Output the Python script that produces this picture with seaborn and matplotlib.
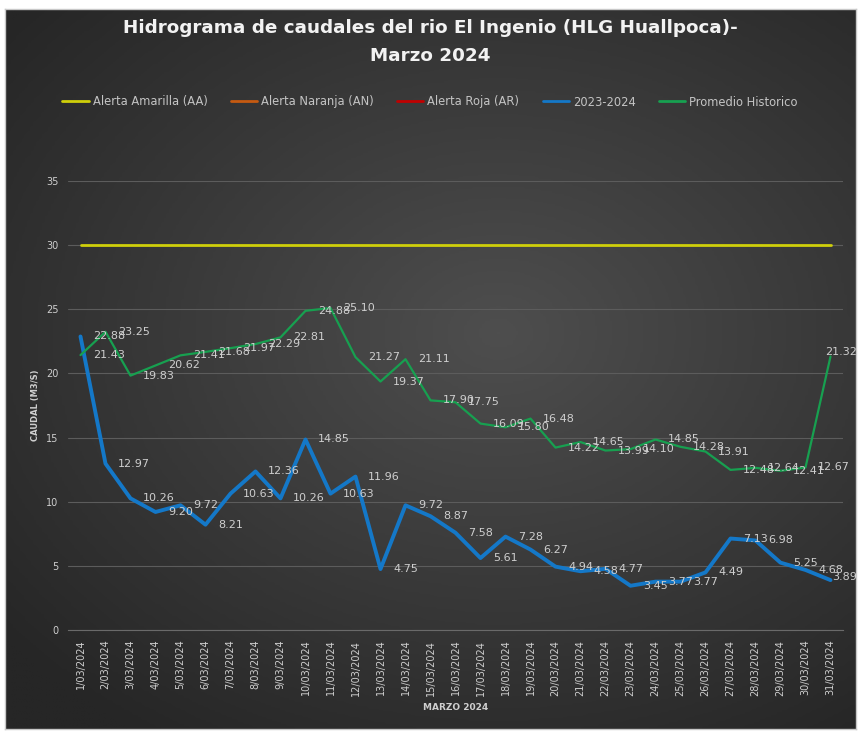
import numpy as np
import matplotlib
matplotlib.use("Agg")
import matplotlib.pyplot as plt
import seaborn as sns
from matplotlib.lines import Line2D
from matplotlib.colors import LinearSegmentedColormap

# ---------------- data ----------------
dias = list(range(1, 32))
fechas = [f"{d}/03/2024" for d in dias]
serie_2023_2024 = [22.88, 12.97, 10.26, 9.20, 9.72, 8.21, 10.63, 12.36, 10.26, 14.85,
                   10.63, 11.96, 4.75, 9.72, 8.87, 7.58, 5.61, 7.28, 6.27, 4.94,
                   4.58, 4.77, 3.45, 3.77, 3.77, 4.49, 7.13, 6.98, 5.25, 4.68, 3.89]
promedio_historico = [21.43, 23.25, 19.83, 20.62, 21.41, 21.68, 21.97, 22.29, 22.81, 24.88,
                      25.10, 21.27, 19.37, 21.11, 17.90, 17.75, 16.09, 15.80, 16.48, 14.22,
                      14.65, 13.99, 14.10, 14.85, 14.28, 13.91, 12.48, 12.64, 12.41, 12.67, 21.32]
alerta_amarilla = [30] * 31
alerta_naranja = []
alerta_roja = []
y_ticks = [0, 5, 10, 15, 20, 25, 30, 35]

titulo = "Hidrograma de caudales del rio El Ingenio (HLG Huallpoca)-\nMarzo 2024"
etiquetas = ["Alerta Amarilla (AA)", "Alerta Naranja (AN)", "Alerta Roja (AR)",
             "2023-2024", "Promedio Historico"]

c_amar, c_nar, c_roja, c_azul, c_verde = "#cfcf0a", "#c55a11", "#c00000", "#1478c8", "#17a050"
txt = "#cfcfcf"

sns.set_theme(style="dark")
plt.rcParams['font.family'] = ['DejaVu Sans']

W, H = 860, 731
fig = plt.figure(figsize=(W / 100, H / 100), dpi=100)
fig.patch.set_facecolor("white")

# background panel with radial gradient
bx0, by0, bx1, by1 = 5, 9, 856, 729
bg = fig.add_axes([bx0 / W, 1 - by1 / H, (bx1 - bx0) / W, (by1 - by0) / H], zorder=0)
gy, gx = np.mgrid[0:1:300j, 0:1:300j]
r = np.sqrt(((gx - 0.58) / 1.0) ** 2 + ((gy - 0.45) / 0.9) ** 2)
cmap = LinearSegmentedColormap.from_list("g", ["#4e4e4e", "#3a3a3a", "#262626"])
bg.imshow(np.clip(r / 0.75, 0, 1), cmap=cmap, aspect="auto", extent=[0, 1, 0, 1], origin="upper")
bg.set_xticks([]); bg.set_yticks([])
for s in bg.spines.values():
    s.set_color("#c8c8c8"); s.set_linewidth(1)

# main axes
left, right, top, bottom = 68, 843, 181, 630
ax = fig.add_axes([left / W, 1 - bottom / H, (right - left) / W, (bottom - top) / H], zorder=1)
ax.patch.set_alpha(0)

sns.lineplot(x=dias, y=alerta_amarilla, ax=ax, color=c_amar, lw=2.0, zorder=3)
sns.lineplot(x=dias, y=serie_2023_2024, ax=ax, color=c_azul, lw=2.8, zorder=4)
sns.lineplot(x=dias, y=promedio_historico, ax=ax, color=c_verde, lw=1.6, zorder=4)

ultimo = len(dias) - 1
for serie, dy in ((serie_2023_2024, 2), (promedio_historico, 3)):
    for i, (d, v) in enumerate(zip(dias, serie)):
        if i == ultimo:
            # label pushed back inside the chart area (as the spreadsheet does)
            ax.annotate(f"{v:.2f}", xy=(857 / W, v), xycoords=("figure fraction", "data"),
                        xytext=(0, dy), textcoords="offset points",
                        ha="right", va="center", fontsize=8, color=txt, zorder=5)
        else:
            ax.annotate(f"{v:.2f}", (d, v), xytext=(9, 0), textcoords="offset points",
                        ha="left", va="center", fontsize=8, color=txt, zorder=5)

ax.set_xlim(0.5, 31.5)
ax.set_ylim(0, 35)
ax.set_yticks(y_ticks)
ax.set_yticklabels([str(t) for t in y_ticks], fontsize=7, color=txt)
ax.set_xticks(dias)
ax.set_xticklabels(fechas, rotation=90, fontsize=7, color=txt, va="top", ha="center")
ax.set_xticks(np.arange(0.5, 32.0, 1.0), minor=True)
ax.tick_params(axis="x", which="major", length=0, pad=7)
ax.tick_params(axis="x", which="minor", length=4, color="#6a6a6a", width=0.8)
ax.tick_params(axis="y", length=0, pad=7)
ax.grid(False)
ax.yaxis.grid(True, color="#5c5c5c", lw=0.8)
ax.set_axisbelow(True)
for k, s in ax.spines.items():
    s.set_visible(k == "bottom")
ax.spines["bottom"].set_color("#6a6a6a")
ax.spines["bottom"].set_linewidth(0.8)

ax.set_xlabel("MARZO 2024", fontsize=6.5, color=txt, fontweight="bold", labelpad=5)
ax.set_ylabel("CAUDAL (M3/S)", fontsize=6, color=txt, fontweight="bold", labelpad=4)

fig.text(0.5, 1 - 42 / H, titulo, ha="center", va="center", fontsize=13.2,
         fontweight="bold", color="#f2f2f2", linespacing=1.75)

handles = [Line2D([], [], color=c, lw=2) for c in (c_amar, c_nar, c_roja, c_azul, c_verde)]
ax.plot(alerta_naranja, alerta_naranja, color=c_nar)
ax.plot(alerta_roja, alerta_roja, color=c_roja)
leg = fig.legend(handles, etiquetas, loc="center", bbox_to_anchor=(0.5, 1 - 102 / H),
                 ncol=5, frameon=False, fontsize=8.3, labelcolor="#c4c4c4", handlelength=2.3,
                 columnspacing=2.0, handletextpad=0.35)

fig.savefig("out.png", dpi=100, facecolor=fig.get_facecolor())
